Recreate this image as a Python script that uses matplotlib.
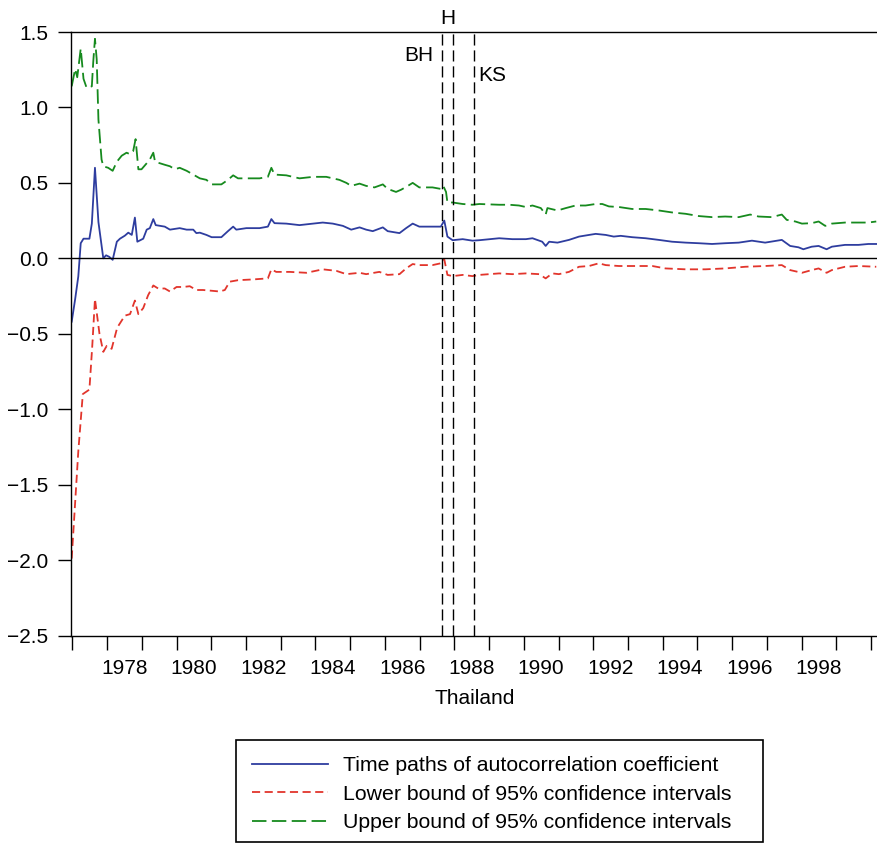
import numpy as np
import matplotlib
matplotlib.use('Agg')
from matplotlib import pyplot as plt
from matplotlib.patches import Rectangle
from matplotlib.ticker import FixedLocator, NullFormatter

plt.rcParams['font.family'] = ['Liberation Sans', 'DejaVu Sans']

# rolling autocorrelation coefficient, Thailand
coef_years = [1976.98, 1977.08, 1977.17, 1977.24, 1977.32, 1977.49, 1977.56, 1977.65, 1977.75, 1977.89,
              1977.97, 1978.06, 1978.16, 1978.28, 1978.37, 1978.51, 1978.61, 1978.71, 1978.80, 1978.87,
              1979.04, 1979.14, 1979.23, 1979.33, 1979.40, 1979.66, 1979.81, 1980.09, 1980.29, 1980.48,
              1980.57, 1980.67, 1980.86, 1981.01, 1981.29, 1981.48, 1981.63, 1981.72, 1982.01, 1982.39,
              1982.63, 1982.73, 1982.82, 1983.16, 1983.54, 1983.93, 1984.21, 1984.50, 1984.79, 1985.03,
              1985.27, 1985.46, 1985.65, 1985.94, 1986.08, 1986.42, 1986.61, 1986.80, 1986.99, 1987.37,
              1987.61, 1987.71, 1987.80, 1987.95, 1988.24, 1988.52, 1988.72, 1989.29, 1989.67, 1990.06,
              1990.25, 1990.53, 1990.63, 1990.73, 1990.97, 1991.30, 1991.59, 1991.88, 1992.07, 1992.36,
              1992.59, 1992.79, 1993.12, 1993.51, 1993.89, 1994.27, 1994.66, 1995.04, 1995.42, 1995.80,
              1996.19, 1996.57, 1996.95, 1997.43, 1997.67, 1997.91, 1998.05, 1998.29, 1998.49, 1998.72,
              1998.87, 1999.25, 1999.64, 1999.92, 2000.15]
coef = [-0.42, -0.27, -0.12, 0.10, 0.13, 0.13, 0.23, 0.60, 0.24, 0.00,
        0.02, 0.01, -0.01, 0.11, 0.13, 0.15, 0.17, 0.155, 0.27, 0.11,
        0.13, 0.19, 0.20, 0.26, 0.22, 0.21, 0.19, 0.20, 0.19, 0.19,
        0.167, 0.17, 0.155, 0.14, 0.14, 0.18, 0.21, 0.19, 0.20, 0.20,
        0.21, 0.26, 0.233, 0.23, 0.22, 0.23, 0.237, 0.23, 0.215, 0.19,
        0.205, 0.19, 0.18, 0.205, 0.18, 0.167, 0.20, 0.23, 0.21, 0.21,
        0.21, 0.25, 0.144, 0.12, 0.127, 0.117, 0.12, 0.133, 0.127, 0.127,
        0.133, 0.11, 0.082, 0.11, 0.104, 0.122, 0.144, 0.155, 0.162, 0.155,
        0.144, 0.149, 0.14, 0.133, 0.122, 0.11, 0.104, 0.10, 0.095, 0.10,
        0.104, 0.117, 0.104, 0.122, 0.082, 0.073, 0.06, 0.077, 0.082, 0.06,
        0.077, 0.089, 0.089, 0.095, 0.095]

lower_years = [1976.98, 1977.17, 1977.30, 1977.49, 1977.57, 1977.65, 1977.78, 1977.89, 1977.99, 1978.13,
               1978.29, 1978.51, 1978.66, 1978.80, 1978.90, 1979.04, 1979.18, 1979.33, 1979.47, 1979.66,
               1979.81, 1980.00, 1980.19, 1980.38, 1980.57, 1980.76, 1981.01, 1981.24, 1981.39, 1981.53,
               1981.77, 1982.20, 1982.63, 1982.73, 1982.87, 1983.26, 1983.74, 1984.21, 1984.60, 1984.89,
               1985.27, 1985.46, 1985.84, 1986.08, 1986.42, 1986.61, 1986.80, 1986.99, 1987.37, 1987.61,
               1987.71, 1987.80, 1987.95, 1988.24, 1988.52, 1988.72, 1989.29, 1989.67, 1990.06, 1990.44,
               1990.63, 1990.82, 1991.01, 1991.30, 1991.59, 1991.88, 1992.16, 1992.36, 1992.74, 1993.31,
               1993.70, 1994.08, 1994.66, 1995.23, 1995.80, 1996.38, 1996.95, 1997.43, 1997.67, 1998.01,
               1998.29, 1998.49, 1998.72, 1998.87, 1999.25, 1999.64, 2000.15]
lower = [-1.99, -1.28, -0.90, -0.87, -0.59, -0.27, -0.50, -0.62, -0.58, -0.60,
         -0.46, -0.38, -0.37, -0.28, -0.37, -0.33, -0.245, -0.18, -0.20, -0.20,
         -0.22, -0.19, -0.19, -0.185, -0.21, -0.21, -0.215, -0.22, -0.21, -0.155,
         -0.145, -0.14, -0.133, -0.073, -0.09, -0.09, -0.096, -0.073, -0.083, -0.105,
         -0.096, -0.105, -0.09, -0.11, -0.105, -0.067, -0.038, -0.045, -0.045, -0.033,
         -0.007, -0.11, -0.118, -0.11, -0.118, -0.11, -0.10, -0.105, -0.10, -0.105,
         -0.133, -0.10, -0.105, -0.09, -0.056, -0.051, -0.033, -0.045, -0.051, -0.051,
         -0.051, -0.067, -0.073, -0.073, -0.067, -0.056, -0.051, -0.045, -0.078, -0.096,
         -0.078, -0.067, -0.096, -0.078, -0.056, -0.051, -0.056]

upper_years = [1976.98, 1977.08, 1977.14, 1977.24, 1977.32, 1977.41, 1977.56, 1977.60, 1977.65, 1977.70,
               1977.75, 1977.84, 1977.89, 1978.03, 1978.16, 1978.28, 1978.42, 1978.56, 1978.66, 1978.75,
               1978.82, 1978.90, 1978.99, 1979.14, 1979.23, 1979.33, 1979.38, 1979.52, 1979.66, 1979.81,
               1979.95, 1980.09, 1980.29, 1980.48, 1980.67, 1980.86, 1981.01, 1981.29, 1981.48, 1981.63,
               1981.77, 1982.01, 1982.39, 1982.63, 1982.73, 1982.82, 1983.16, 1983.54, 1983.93, 1984.31,
               1984.69, 1984.89, 1985.03, 1985.27, 1985.46, 1985.70, 1985.94, 1986.08, 1986.32, 1986.47,
               1986.66, 1986.80, 1986.99, 1987.37, 1987.61, 1987.68, 1987.76, 1987.80, 1987.95, 1988.24,
               1988.52, 1988.72, 1989.29, 1989.58, 1989.86, 1990.06, 1990.25, 1990.49, 1990.63, 1990.68,
               1990.97, 1991.21, 1991.49, 1991.78, 1992.07, 1992.26, 1992.45, 1992.74, 1993.12, 1993.51,
               1993.89, 1994.27, 1994.66, 1995.04, 1995.42, 1995.80, 1996.19, 1996.52, 1996.76, 1997.14,
               1997.43, 1997.57, 1997.82, 1998.01, 1998.29, 1998.49, 1998.68, 1998.87, 1999.25, 1999.64,
               1999.92, 2000.15]
upper = [1.14, 1.255, 1.20, 1.39, 1.19, 1.13, 1.14, 1.30, 1.455, 1.32,
         0.92, 0.655, 0.61, 0.60, 0.58, 0.64, 0.68, 0.70, 0.69, 0.71,
         0.79, 0.59, 0.59, 0.63, 0.655, 0.70, 0.64, 0.63, 0.62, 0.61,
         0.59, 0.60, 0.58, 0.555, 0.53, 0.52, 0.49, 0.49, 0.52, 0.55,
         0.53, 0.53, 0.53, 0.54, 0.60, 0.555, 0.55, 0.53, 0.54, 0.54,
         0.52, 0.50, 0.48, 0.495, 0.48, 0.47, 0.49, 0.46, 0.44, 0.455,
         0.48, 0.50, 0.47, 0.47, 0.46, 0.48, 0.44, 0.37, 0.37, 0.36,
         0.355, 0.36, 0.355, 0.355, 0.35, 0.34, 0.35, 0.333, 0.29, 0.333,
         0.317, 0.333, 0.35, 0.35, 0.36, 0.36, 0.344, 0.34, 0.327, 0.327,
         0.317, 0.304, 0.295, 0.28, 0.273, 0.277, 0.273, 0.29, 0.277, 0.273,
         0.29, 0.255, 0.244, 0.23, 0.233, 0.244, 0.215, 0.23, 0.237, 0.237,
         0.237, 0.244]

# break dates marked on the chart
break_years = [1987.63, 1987.97, 1988.56]
break_labels = [('BH', 1986.99, 1.345), ('H', 1987.81, 1.59), ('KS', 1989.10, 1.21)]

year_ticks = list(range(1977, 2001))
year_labels = [str(y) for y in range(1978, 2000, 2)]
y_ticks = [-2.5, -2.0, -1.5, -1.0, -0.5, 0.0, 0.5, 1.0, 1.5]

FS = 15
W, H = 878, 843

fig = plt.figure(figsize=(W / 100, H / 100), dpi=100)
ax = fig.add_axes([71 / W, 207.5 / H, 807 / W, 603.5 / H])

ax.plot(coef_years, coef, color='#2e3d9f', lw=1.3, solid_joinstyle='round',
        label='Time paths of autocorrelation coefficient')
ax.plot(lower_years, lower, color='#e2352c', lw=1.3, dashes=(4.5, 2.5),
        label='Lower bound of 95% confidence intervals')
ax.plot(upper_years, upper, color='#168a1e', lw=1.3, dashes=(8, 3),
        label='Upper bound of 95% confidence intervals')

ax.axhline(0, color='black', lw=1.0)
for b in break_years:
    ax.axvline(b, color='black', lw=1.0, dashes=(8, 3.5))
for txt, x, y in break_labels:
    ax.text(x, y, txt, ha='center', va='center', fontsize=FS, clip_on=False)

ax.set_xlim(1976.96, 2000.2)
ax.set_ylim(-2.5, 1.5)

# year ticks at boundaries, labels centred in every other year
ax.xaxis.set_major_locator(FixedLocator(year_ticks))
ax.xaxis.set_major_formatter(NullFormatter())
ax.xaxis.set_minor_locator(FixedLocator([y + 0.5 for y in range(1978, 2000, 2)]))
ax.set_xticklabels(year_labels, minor=True)
ax.tick_params(axis='x', which='major', direction='out', length=10, width=1.0)
ax.tick_params(axis='x', which='minor', length=0, pad=17, labelsize=FS)
ax.set_yticks(y_ticks)
ax.set_yticklabels([('%.1f' % v).replace('-', '\u2212') for v in y_ticks])
ax.tick_params(axis='y', direction='out', length=9.5, width=1.0, pad=7, labelsize=FS)

for s in ['left', 'top', 'bottom']:
    ax.spines[s].set_linewidth(1.0)
ax.spines['right'].set_visible(False)

ax.set_xlabel('Thailand', fontsize=FS, labelpad=8)

# legend entries without frame, box drawn separately
leg = fig.legend(loc='upper left', bbox_to_anchor=(236 / W, 1 - 740 / H), fontsize=15.3,
                 frameon=False, handlelength=3.6, labelspacing=0.45, borderaxespad=0,
                 borderpad=0.75, handletextpad=0.67)
fig.patches.append(Rectangle((236 / W, 1 - 842 / H), (763 - 236) / W, 102 / H,
                             transform=fig.transFigure, fill=False, edgecolor='black',
                             lw=1.2))

plt.savefig('out.png', dpi=100)
